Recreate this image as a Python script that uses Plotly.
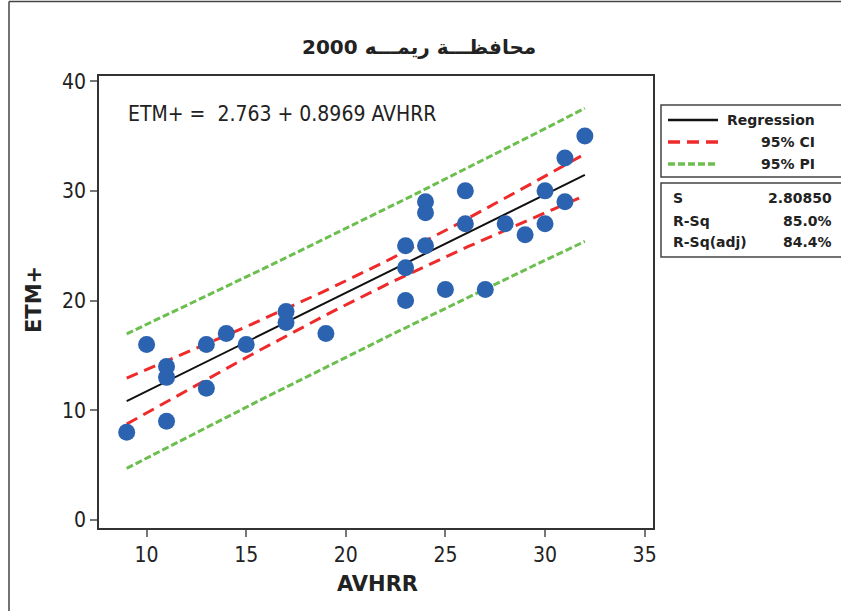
import numpy as np
import plotly.graph_objects as go

# Observations: AVHRR vs ETM+
avhrr = [9, 10, 11, 11, 11, 13, 13, 14, 15, 17, 17, 19, 23, 23, 23, 24, 24, 24,
         25, 26, 26, 27, 28, 29, 30, 30, 31, 31, 32]
etm = [8, 16, 14, 13, 9, 16, 12, 17, 16, 19, 18, 17, 25, 23, 20, 29, 28, 25,
       21, 30, 27, 21, 27, 26, 30, 27, 33, 29, 35]

# Fitted model summary
intercept = 2.763
slope = 0.8969
s_err = 2.80850
r_sq = "85.0%"
r_sq_adj = "84.4%"
t_crit = 2.052  # t(0.975, df=27)

x_ticks = [10, 15, 20, 25, 30, 35]
y_ticks = [0, 10, 20, 30, 40]

title_text = "2000 محافظـــة ريمـــه"

# Fitted line with confidence and prediction bands
x = np.array(avhrr, dtype=float)
n = len(x)
xbar = x.mean()
sxx = ((x - xbar) ** 2).sum()
xs = np.linspace(min(avhrr), max(avhrr), 60)
yhat = intercept + slope * xs
ci = t_crit * s_err * np.sqrt(1 / n + (xs - xbar) ** 2 / sxx)
pi = t_crit * s_err * np.sqrt(1 + 1 / n + (xs - xbar) ** 2 / sxx)

BLUE = "#2B63B1"
RED = "#EE2A2A"
GREEN = "#6CBE4F"
TXT = "#222222"
NARROW = "Liberation Sans Narrow, DejaVu Sans Condensed, Arial Narrow, sans-serif"
BOLD = "Tahoma, DejaVu Sans, Verdana, sans-serif"

fig = go.Figure()
fig.add_trace(go.Scatter(x=xs, y=yhat + pi, mode="lines",
                         line=dict(color=GREEN, width=3, dash="7px,3px")))
fig.add_trace(go.Scatter(x=xs, y=yhat - pi, mode="lines",
                         line=dict(color=GREEN, width=3, dash="7px,3px")))
fig.add_trace(go.Scatter(x=xs, y=yhat + ci, mode="lines",
                         line=dict(color=RED, width=3, dash="12px,7px")))
fig.add_trace(go.Scatter(x=xs, y=yhat - ci, mode="lines",
                         line=dict(color=RED, width=3, dash="12px,7px")))
fig.add_trace(go.Scatter(x=xs, y=yhat, mode="lines",
                         line=dict(color="#111111", width=2)))
fig.add_trace(go.Scatter(x=avhrr, y=etm, mode="markers",
                         marker=dict(color=BLUE, size=17, line=dict(width=0))))

# Pixel helpers for the plotting frame (left 99, right 653, top 76, bottom 528)
L, R, T, B = 99, 653, 76, 528


def px(xp):
    return (xp - L) / (R - L)


def py(yp):
    return (B - yp) / (B - T)


fig.update_layout(
    width=841, height=611,
    margin=dict(l=L, r=841 - R, t=T, b=611 - B),
    paper_bgcolor="white", plot_bgcolor="white",
    showlegend=False,
    font=dict(family=NARROW, color=TXT),
    xaxis=dict(range=[7.61, 35.42], tickvals=x_ticks, showgrid=False, zeroline=False,
               showline=True, linecolor="#333333", linewidth=1.5, mirror=True,
               ticks="outside", ticklen=7, tickcolor="#777777", tickwidth=1.5,
               tickfont=dict(size=21, family=NARROW, color=TXT)),
    yaxis=dict(range=[-0.73, 40.47], tickvals=y_ticks, showgrid=False, zeroline=False,
               showline=True, linecolor="#333333", linewidth=1.5, mirror=True,
               ticks="outside", ticklen=7, tickcolor="#777777", tickwidth=1.5,
               tickfont=dict(size=21, family=NARROW, color=TXT)),
)

shapes = []
# Outer page frame (top and left edges)
shapes.append(dict(type="line", xref="paper", yref="paper",
                   x0=px(9), x1=px(845), y0=py(1.5), y1=py(1.5),
                   line=dict(color="#444444", width=1.5)))
shapes.append(dict(type="line", xref="paper", yref="paper",
                   x0=px(9), x1=px(9), y0=py(1.5), y1=py(615),
                   line=dict(color="#444444", width=1.5)))
# Legend and summary boxes
shapes.append(dict(type="rect", xref="paper", yref="paper",
                   x0=px(661), x1=px(850), y0=py(105), y1=py(177),
                   line=dict(color="#444444", width=1.5)))
shapes.append(dict(type="rect", xref="paper", yref="paper",
                   x0=px(661), x1=px(850), y0=py(183), y1=py(257),
                   line=dict(color="#444444", width=1.5)))
# Legend line samples
for yy, col, dash, w in [(120, "#111111", "solid", 2.5),
                         (142, RED, "12px,7px", 3.5),
                         (164, GREEN, "7px,3px", 3.5)]:
    shapes.append(dict(type="line", xref="paper", yref="paper",
                       x0=px(668), x1=px(718), y0=py(yy), y1=py(yy),
                       line=dict(color=col, width=w, dash=dash)))
fig.update_layout(shapes=shapes)


def note(text, xp, yp, size, xanchor="center", family=BOLD, bold=True, angle=0):
    fig.add_annotation(text=f"<b>{text}</b>" if bold else text,
                       xref="paper", yref="paper", x=px(xp), y=py(yp),
                       xanchor=xanchor, yanchor="middle", showarrow=False,
                       textangle=angle,
                       font=dict(size=size, family=family, color=TXT))


note(title_text, 419, 47, 20, family="DejaVu Sans, sans-serif")
note("ETM+ =  2.763 + 0.8969 AVHRR", 126, 114, 21, xanchor="left",
     family=NARROW, bold=False)
note("AVHRR", 377, 584, 21)
note("ETM+", 34, 300, 21, angle=-90)

# Legend labels
note("Regression", 817, 120, 14, xanchor="right")
note("95% CI", 817, 142, 14, xanchor="right")
note("95% PI", 817, 164, 14, xanchor="right")

# Model summary
for yy, lab, val in [(198, "S", f"{s_err:.5f}"), (221, "R-Sq", r_sq),
                     (242, "R-Sq(adj)", r_sq_adj)]:
    note(lab, 671, yy, 14, xanchor="left")
    note(val, 834, yy, 14, xanchor="right")

fig.write_html("out.html")
